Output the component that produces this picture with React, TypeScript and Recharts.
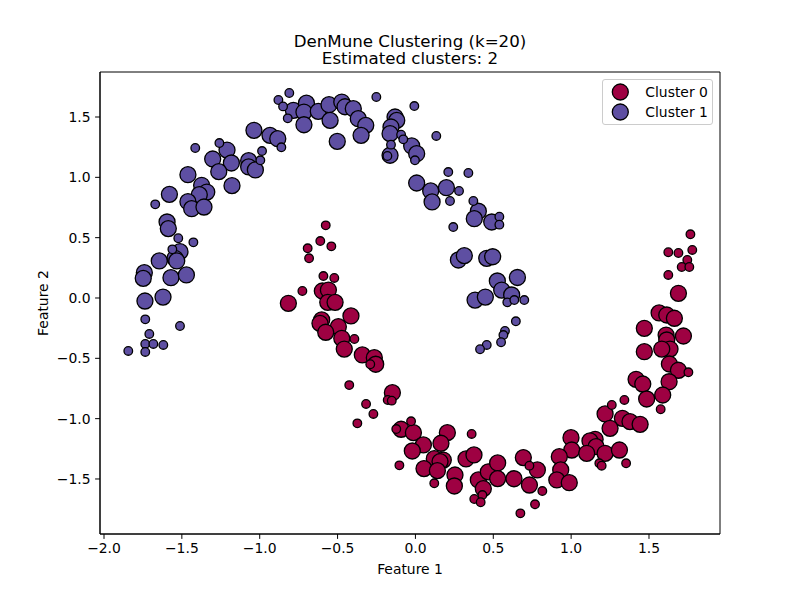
import React from 'react';
import { ScatterChart, Scatter, XAxis, YAxis, Legend, ReferenceArea } from 'recharts';

const FONT = '"DejaVu Sans", Verdana, sans-serif';
const COLOR0 = '#9e0142';
const COLOR1 = '#5e4fa2';

const titleLines = ['DenMune Clustering (k=20)', 'Estimated clusters: 2'];
const xTicks = [-2.0, -1.5, -1.0, -0.5, 0.0, 0.5, 1.0, 1.5];
const yTicks = [-1.5, -1.0, -0.5, 0.0, 0.5, 1.0, 1.5];
const xDomain: [number, number] = [-2.0257, 1.956];
const yDomain: [number, number] = [-1.956, 1.873];

// Cluster 1 (purple) core points (large markers)
const cluster1Core: number[][] = [
  [-0.784, 1.555], [-0.70, 1.615], [-0.716, 1.541], [-0.716, 1.436], [-1.037, 1.390],
  [-0.934, 1.348], [-0.884, 1.320], [-1.210, 1.226], [-1.302, 1.152], [-1.182, 1.119],
  [-1.071, 1.138], [-1.071, 1.086], [-1.028, 1.061], [-1.263, 1.047], [-1.461, 1.022],
  [-1.373, 0.934], [-1.178, 0.931], [-1.340, 0.878], [-1.580, 0.859], [-1.388, 0.856],
  [-1.461, 0.798], [-1.437, 0.740], [-1.358, 0.754], [-1.595, 0.630], [-1.587, 0.575],
  [-0.624, 1.547], [-0.555, 1.602], [-0.473, 1.624], [-0.452, 1.585], [-0.399, 1.569],
  [-0.548, 1.472], [-0.367, 1.486], [-0.319, 1.431], [-0.349, 1.348], [-0.502, 1.298],
  [-0.131, 1.500], [-0.120, 1.472], [-0.157, 1.417], [-0.163, 1.362], [-0.024, 1.260],
  [0.008, 1.196], [-0.163, 1.183], [0.008, 0.953], [0.098, 0.887], [0.107, 0.796],
  [0.199, 0.914], [0.404, 0.719], [0.378, 0.657], [0.490, 0.630],
  [-1.512, 0.384], [-1.544, 0.329], [-1.533, 0.307], [-1.645, 0.307], [-1.741, 0.210],
  [-1.748, 0.163], [-1.570, 0.168], [-1.471, 0.191], [-1.737, -0.025], [-1.621, 0.008],
  [0.276, 0.315], [0.314, 0.351], [0.458, 0.329], [0.496, 0.342], [0.526, 0.141],
  [0.554, 0.066], [0.383, -0.017], [0.449, 0.008], [0.655, 0.170], [0.618, 0.025],
];

// Cluster 1 (purple) border points (small markers)
const cluster1Border: number[][] = [
  [-0.810, 1.699], [-0.880, 1.641], [-0.850, 1.588], [-0.820, 1.489], [-0.861, 1.249],
  [-1.259, 1.284], [-1.414, 1.243], [-0.985, 1.218], [-0.996, 1.141], [-1.671, 0.776],
  [-0.251, 1.666], [-0.007, 1.591], [-0.092, 1.353], [-0.078, 1.315], [-0.157, 1.271],
  [-0.003, 1.141], [-0.180, 1.177], [0.134, 1.343], [0.211, 1.044], [0.340, 1.036],
  [0.280, 0.887], [0.222, 0.804], [0.372, 0.804], [0.539, 0.674], [0.539, 0.608],
  [0.243, 0.588],
  [-1.523, 0.495], [-1.426, 0.461], [-1.561, 0.403], [-1.735, -0.177], [-1.512, -0.232],
  [-1.709, -0.298], [-1.735, -0.381], [-1.683, -0.381], [-1.619, -0.389], [-1.844, -0.439],
  [-1.735, -0.447],
  [0.590, -0.036], [0.575, -0.273], [0.565, -0.307], [0.550, -0.367], [0.458, -0.389],
  [0.415, -0.425], [0.645, -0.193], [0.635, -0.017], [0.699, -0.017],
];

// Cluster 0 (crimson) core points (large markers)
const cluster0Core: number[][] = [
  [-0.816, -0.044],
  [-0.598, 0.058], [-0.559, 0.066], [-0.563, -0.036], [-0.516, -0.036], [-0.602, -0.182],
  [-0.613, -0.210], [-0.414, -0.149], [-0.495, -0.238], [-0.576, -0.284], [-0.473, -0.334],
  [-0.457, -0.423], [-0.341, -0.472], [-0.264, -0.495], [-0.255, -0.549],
  [1.689, 0.039], [1.565, -0.124], [1.614, -0.141], [1.663, -0.168], [1.470, -0.251],
  [1.610, -0.307], [1.721, -0.315], [1.614, -0.348], [1.635, -0.423], [1.582, -0.423],
  [1.470, -0.445], [1.631, -0.547], [1.689, -0.599], [1.417, -0.674], [1.460, -0.713],
  [1.629, -0.694],
  [-0.148, -0.785], [-0.092, -1.088], [-0.013, -1.116], [0.205, -1.116], [0.051, -1.218],
  [0.164, -1.204], [-0.020, -1.268], [0.121, -1.332], [0.179, -1.343], [0.158, -1.356],
  [0.325, -1.334], [0.376, -1.301], [0.055, -1.414], [0.141, -1.431], [0.254, -1.467],
  [0.250, -1.558], [0.404, -1.508], [0.436, -1.580], [0.468, -1.441], [0.528, -1.367],
  [0.528, -1.497], [0.633, -1.498],
  [1.588, -0.804], [1.485, -0.837], [1.218, -0.961], [1.329, -0.997], [1.378, -1.025],
  [1.443, -1.047], [1.250, -1.080], [0.999, -1.158], [1.154, -1.171], [1.121, -1.185],
  [1.160, -1.232], [1.004, -1.260], [1.100, -1.287], [1.218, -1.287], [1.310, -1.260],
  [0.693, -1.323], [0.924, -1.315], [0.783, -1.425], [0.933, -1.425], [0.732, -1.550],
  [0.908, -1.508], [0.988, -1.531],
];

// Cluster 0 (crimson) border points (small markers)
const cluster0Border: number[][] = [
  [-0.576, 0.602], [-0.692, 0.412], [-0.683, 0.329], [-0.726, 0.058], [-0.611, 0.472],
  [-0.540, 0.428], [-0.591, 0.182], [-0.521, 0.166], [-0.392, -0.340], [-0.290, -0.549],
  [-0.425, -0.722],
  [1.766, 0.528], [1.624, 0.379], [1.689, 0.373], [1.778, 0.398], [1.746, 0.315],
  [1.710, 0.257], [1.759, 0.257], [1.624, 0.191], [1.753, -0.616],
  [-0.178, -0.845], [-0.152, -0.851], [-0.317, -0.878], [-0.270, -0.961], [-0.373, -1.039],
  [-0.028, -1.022], [0.361, -1.127], [-0.123, -1.086], [-0.103, -1.387], [0.121, -1.536],
  [0.430, -1.633], [0.378, -1.666], [0.419, -1.693],
  [1.342, -0.845], [1.575, -0.922], [1.261, -0.887], [1.181, -1.370], [1.196, -1.390],
  [1.353, -1.370], [0.732, -1.390], [0.815, -1.600], [0.768, -1.710], [0.674, -1.785],
];

const fmt = (v: number) => (v < 0 ? '\u2212' : '') + Math.abs(v).toFixed(1);

const toPoints = (core: number[][], border: number[][]) => [
  ...core.map(([x, y]) => ({ x, y, core: true })),
  ...border.map(([x, y]) => ({ x, y, core: false })),
];

const data0 = toPoints(cluster0Core, cluster0Border);
const data1 = toPoints(cluster1Core, cluster1Border);

const makeShape = (color: string) => (props: any) => {
  const { cx, cy, payload } = props;
  if (cx == null || cy == null) return <g />;
  return (
    <circle cx={cx} cy={cy} r={payload && payload.core ? 8 : 4.3} fill={color} stroke="#000" strokeWidth={1.3} />
  );
};

const renderLegend = (props: any) => {
  const items = (props.payload || []) as any[];
  return (
    <div
      style={{
        position: 'relative',
        boxSizing: 'border-box',
        width: 111,
        height: 46,
        border: '1px solid #cccccc',
        borderRadius: 3,
        background: 'rgba(255,255,255,0.8)',
        fontFamily: FONT,
        fontSize: 13.9,
        color: '#000',
      }}
    >
      {items.map((it, i) => (
        <div key={i} style={{ position: 'absolute', left: 0, top: 2 + i * 20, height: 20, width: 109 }}>
          <svg width={30} height={20} style={{ position: 'absolute', left: 2, top: 0 }}>
            <circle cx={15.3} cy={10} r={8} fill={it.color} stroke="#000" strokeWidth={1.3} />
          </svg>
          <span style={{ position: 'absolute', left: 42.3, top: 0, lineHeight: '20px', whiteSpace: 'nowrap' }}>
            {it.value}
          </span>
        </div>
      ))}
    </div>
  );
};

const YLabel = (p: any) => {
  const vb = p.viewBox || { x: 0, y: 72, width: 100, height: 462 };
  const x = vb.x + 43;
  const y = vb.y + vb.height / 2;
  return (
    <text x={x} y={y} transform={`rotate(-90 ${x} ${y})`} textAnchor="middle" dominantBaseline="central"
      fill="#000" fontSize={13.9} fontFamily={FONT}>
      Feature 2
    </text>
  );
};

export default function App() {
  return (
    <div style={{ position: 'absolute', left: 0, top: 0, width: 800, height: 600, background: '#fff' }}>
      <div
        style={{
          position: 'absolute',
          left: 10,
          top: 33,
          width: 800,
          textAlign: 'center',
          fontFamily: FONT,
          fontSize: 16.67,
          lineHeight: '17.3px',
          color: '#000',
          zIndex: 2,
        }}
      >
        {titleLines.map((t, i) => (
          <div key={i}>{t}</div>
        ))}
      </div>
      <ScatterChart width={800} height={600} margin={{ top: 72, right: 80, bottom: 0, left: 0 }}>
        <XAxis
          type="number"
          dataKey="x"
          domain={xDomain}
          ticks={xTicks}
          interval={0}
          allowDataOverflow
          tickFormatter={fmt}
          height={66}
          tickSize={4.9}
          tickMargin={4.5}
          stroke="#000"
          tick={{ fill: '#000', fontSize: 13.9, fontFamily: FONT }}
          label={{ value: 'Feature 1', position: 'insideBottom', offset: 26, fill: '#000', fontSize: 13.9, fontFamily: FONT }}
        />
        <YAxis
          type="number"
          dataKey="y"
          domain={yDomain}
          ticks={yTicks}
          interval={0}
          allowDataOverflow
          tickFormatter={fmt}
          width={100}
          tickSize={4.9}
          tickMargin={4.5}
          stroke="#000"
          tick={{ fill: '#000', fontSize: 13.9, fontFamily: FONT }}
          label={<YLabel />}
        />
        <ReferenceArea
          x1={xDomain[0]}
          x2={xDomain[1]}
          y1={yDomain[0]}
          y2={yDomain[1]}
          fill="none"
          fillOpacity={0}
          stroke="#000"
          strokeWidth={1}
          ifOverflow="visible"
        />
        <Scatter name="Cluster 0" data={data0} fill={COLOR0} shape={makeShape(COLOR0)} isAnimationActive={false} />
        <Scatter name="Cluster 1" data={data1} fill={COLOR1} shape={makeShape(COLOR1)} isAnimationActive={false} />
        <Legend
          layout="vertical"
          align="center"
          verticalAlign="middle"
          content={renderLegend}
          wrapperStyle={{ position: 'absolute', left: 602, top: 79, width: 111, height: 46, right: 'auto', bottom: 'auto' }}
        />
      </ScatterChart>
    </div>
  );
}
